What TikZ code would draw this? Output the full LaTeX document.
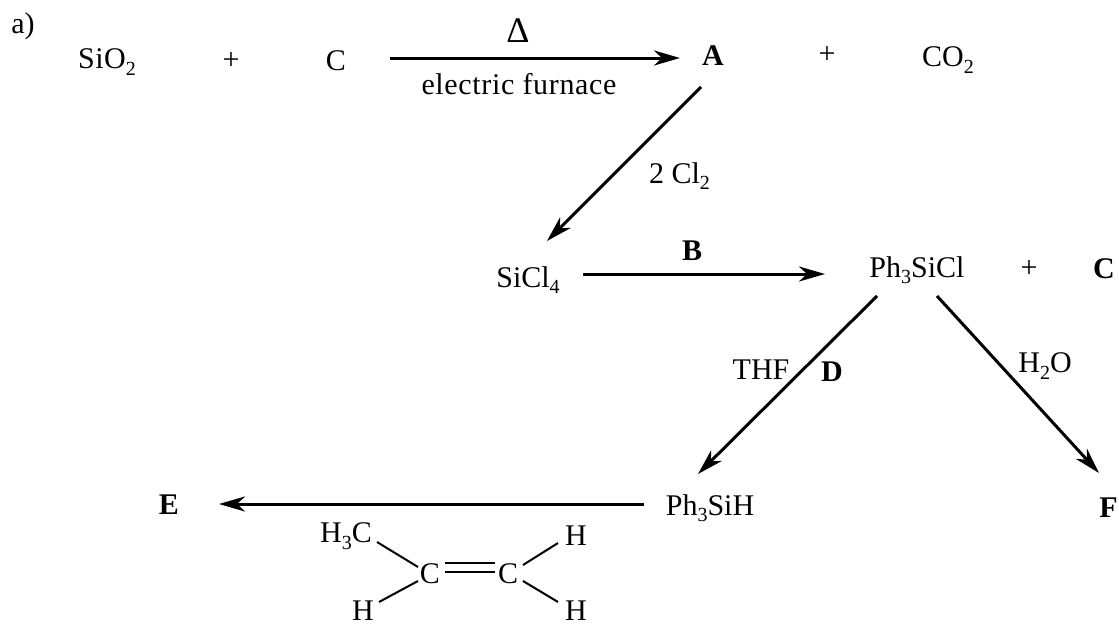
\documentclass[tikz,border=0pt]{standalone}
\usepackage{fontspec}
\setmainfont{Liberation Serif}
\usetikzlibrary{arrows.meta}
\tikzset{
 px/.style={x=1pt,y=-1pt},
 lab/.style={inner sep=0pt,font=\fontsize{30}{34}\selectfont,text=black},
 boldlab/.style={lab,font=\fontsize{30}{34}\bfseries\selectfont},
 rxn/.style={line width=3pt,-{Stealth[length=26pt,width=15pt,inset=8pt]},black},
 bondl/.style={line width=2pt,black}
}
\newcommand{\sbb}[1]{\raisebox{-0.22em}{\fontsize{20}{22}\selectfont #1}}
\begin{document}
\begin{tikzpicture}[px]
\useasboundingbox (0,0) rectangle (1119,624);
\node[lab] (a) at (23,26) {a)};
\node[lab] (sio) at (107,62) {\addfontfeature{LetterSpace=1.5}SiO\sbb{2}};
\node[lab] (p1) at (231,61) {+};
\node[lab] (c) at (336,61) {C};
\node[lab,font=\fontsize{36}{38}\selectfont] (delta) at (518,31) {Δ};
\node[lab] (ef) at (519,84) {\addfontfeature{LetterSpace=2.2}electric furnace};
\node[boldlab] (A) at (713,56) {A};
\node[lab] (p2) at (827,55) {+};
\node[lab] (co) at (948,60) {CO\sbb{2}};
\node[lab] (cl) at (679.5,176) {2 Cl\sbb{2}};
\node[lab] (sicl) at (528,280) {SiCl\sbb{4}};
\node[boldlab] (B) at (692,251) {B};
\node[lab] (ph) at (917,270) {Ph\sbb{3}SiCl};
\node[lab] (p3) at (1029,269) {+};
\node[boldlab] (C) at (1104,269) {C};
\node[lab] (thf) at (761,370) {THF};
\node[boldlab] (D) at (832,372) {D};
\node[lab] (ho) at (1045,366) {H\sbb{2}O};
\node[lab] (psh) at (710,508) {Ph\sbb{3}SiH};
\node[boldlab] (E) at (169,505) {E};
\node[boldlab] (F) at (1108.5,508) {F};
\node[lab] (hc) at (346,536) {H\sbb{3}C};
\node[lab] (c1) at (430,574) {C};
\node[lab] (c2) at (508,574) {C};
\node[lab] (h1) at (576,536) {H};
\node[lab] (h2) at (363,611) {H};
\node[lab] (h3) at (576,611) {H};
\draw[rxn] ([shift={(54,-3)}]c.center) -- ([shift={(-33,2)}]A.center);
\draw[rxn] ([shift={(-12,31)}]A.center) -- ([shift={(19,-39)}]sicl.center);
\draw[rxn] ([shift={(55,-6)}]sicl.center) -- ([shift={(-92,4)}]ph.center);
\draw[rxn] ([shift={(-40,26)}]ph.center) -- ([shift={(-12,-34)}]psh.center);
\draw[rxn] ([shift={(20,26)}]ph.center) -- ([shift={(-9.5,-35)}]F.center);
\draw[rxn] ([shift={(-66,-4)}]psh.center) -- ([shift={(50,-1)}]E.center);
\draw[bondl] ([shift={(31,6)}]hc.center) -- ([shift={(-12,-7)}]c1.center);
\draw[bondl] ([shift={(16,-9)}]h2.center) -- ([shift={(-12,7)}]c1.center);
\draw[bondl] ([shift={(15,-11)}]c1.center) -- ([shift={(-13,-11)}]c2.center);
\draw[bondl] ([shift={(15,-2)}]c1.center) -- ([shift={(-13,-2)}]c2.center);
\draw[bondl] ([shift={(15,-9)}]c2.center) -- ([shift={(-18,7)}]h1.center);
\draw[bondl] ([shift={(15,7)}]c2.center) -- ([shift={(-18,-9)}]h3.center);
\end{tikzpicture}
\end{document}
